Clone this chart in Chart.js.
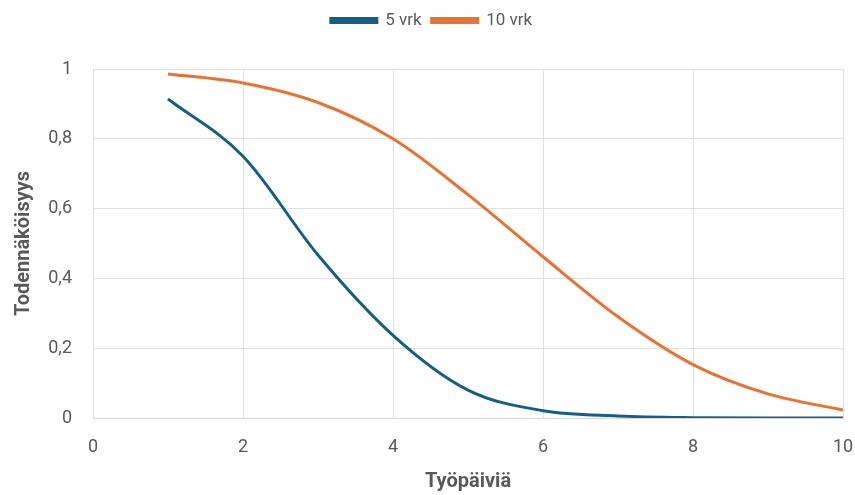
<!DOCTYPE html>
<html>
<head>
<meta charset="utf-8">
<script src="https://cdn.jsdelivr.net/npm/chart.js@4.4.1/dist/chart.umd.min.js"></script>
<style>
  html, body { margin: 0; padding: 0; background: #fff; }
  #wrap { width: 855px; height: 495px; }
</style>
</head>
<body>
<div id="wrap"><canvas id="chart"></canvas></div>
<script>
// Työpäiviä (x) ja todennäköisyydet kummallekin sarjalle
const days = [1, 2, 3, 4, 5, 6, 7, 8, 9, 10];
const vrk5 = [0.914, 0.750, 0.467, 0.237, 0.080, 0.021, 0.006, 0.001, 0.0, 0.0];
const vrk10 = [0.986, 0.960, 0.904, 0.800, 0.640, 0.462, 0.290, 0.153, 0.069, 0.023];
const seriesNames = ['5 vrk', '10 vrk'];
const colors = ['#156082', '#E97132'];

const font = "Roboto, sans-serif";
const toPoints = vals => days.map((d, i) => ({ x: d, y: vals[i] }));
const fmt = v => (Math.round(v * 10) / 10).toString().replace('.', ',');

// extra space under the legend
const legendGap = {
    id: 'legendGap',
    beforeInit(chart) {
        const fit = chart.legend.fit;
        chart.legend.fit = function () {
            fit.call(this);
            this.height += 30;
        };
    }
};

const ctx = document.getElementById('chart').getContext('2d');
new Chart(ctx, {
    type: 'line',
    data: {
        datasets: [vrk5, vrk10].map((vals, i) => ({
            label: seriesNames[i],
            data: toPoints(vals),
            borderColor: colors[i],
            backgroundColor: colors[i],
            borderWidth: 3,
            pointRadius: 0,
            cubicInterpolationMode: 'monotone',
            fill: false
        }))
    },
    plugins: [legendGap],
    options: {
        responsive: true,
        maintainAspectRatio: false,
        animation: false,
        layout: { padding: { top: 2, right: 0, bottom: 0, left: 8 } },
        plugins: {
            legend: {
                position: 'top',
                labels: {
                    font: { family: font, size: 17 },
                    color: '#595959',
                    boxWidth: 46,
                    boxHeight: 4,
                    padding: 10
                }
            },
            tooltip: { enabled: false }
        },
        scales: {
            x: {
                type: 'linear',
                min: 0,
                max: 10,
                ticks: {
                    stepSize: 2,
                    font: { family: font, size: 18 },
                    color: '#595959',
                    padding: 19
                },
                grid: { color: '#e0e0e0', drawTicks: false },
                border: { color: '#d9d9d9' },
                title: {
                    display: true,
                    text: 'Työpäiviä',
                    font: { family: font, size: 20, weight: 'bold' },
                    color: '#595959',
                    padding: { top: 6, bottom: 1 }
                },
                afterFit: s => { s.height = 77; s.paddingRight = 12; }
            },
            y: {
                min: 0,
                max: 1,
                ticks: {
                    stepSize: 0.2,
                    callback: v => fmt(v),
                    font: { family: font, size: 18 },
                    color: '#595959',
                    padding: 21
                },
                grid: { color: '#e0e0e0', drawTicks: false },
                border: { display: false },
                title: {
                    display: true,
                    text: 'Todennäköisyys',
                    font: { family: font, size: 20, weight: 'bold' },
                    color: '#595959'
                },
                afterFit: s => { s.width = 85; }
            }
        }
    }
});
</script>
</body>
</html>
